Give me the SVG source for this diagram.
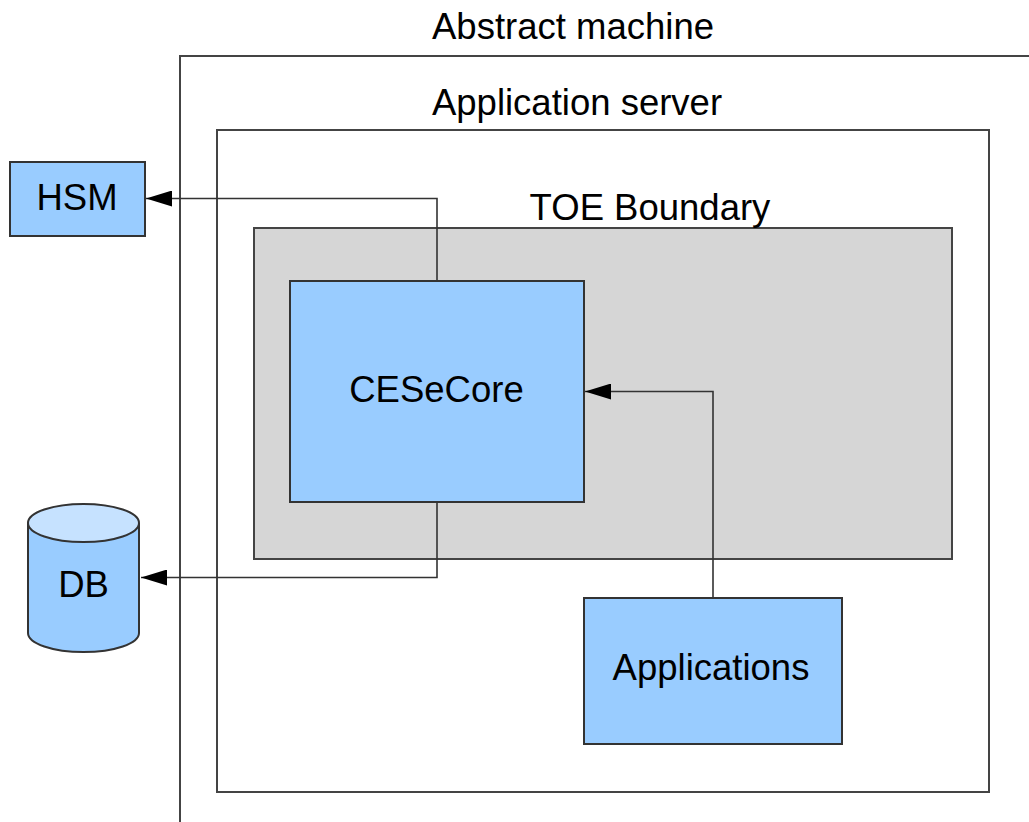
<svg xmlns="http://www.w3.org/2000/svg" width="1029" height="822" viewBox="0 0 1029 822">
<style>
.lbl{font-family:"Liberation Sans",Arial,sans-serif;font-size:36.5px;fill:#000;text-anchor:middle}
.node{fill:#99ccff;stroke:#333;stroke-width:2}
.box{fill:none;stroke:#444;stroke-width:2}
.conn{fill:none;stroke:#333;stroke-width:1.6}
</style>
<defs>
<marker id="arr" viewBox="0 0 26 16" refX="26" refY="8" markerWidth="26" markerHeight="16" markerUnits="userSpaceOnUse" orient="auto">
<path d="M0,0 L26,8 L0,16 Z" fill="#000"/>
</marker>
</defs>
<rect width="1029" height="822" fill="#fff"/>
<g id="abstract-machine">
<path class="box" d="M180,822 V56 H1029" stroke-width="2.2" stroke="#555"/>
<text class="lbl" x="573" y="39">Abstract machine</text>
</g>
<g id="application-server">
<rect class="box" x="217" y="130" width="772" height="662"/>
<text class="lbl" x="577" y="115">Application server</text>
</g>
<g id="toe-boundary">
<rect x="254" y="228" width="698" height="331" fill="#d6d6d6" stroke="#444" stroke-width="2"/>
<text class="lbl" x="650" y="220">TOE Boundary</text>
</g>
<g id="hsm">
<rect class="node" x="10" y="162" width="135" height="74"/>
<text class="lbl" x="77" y="210">HSM</text>
</g>
<g id="db">
<path class="node" d="M28,523 V633 A55.5,19 0 0 0 139,633 V523"/>
<ellipse cx="83.5" cy="523" rx="55.5" ry="19" fill="#c6e2ff" stroke="#333" stroke-width="2"/>
<text class="lbl" x="83.5" y="597">DB</text>
</g>
<g id="cesecore">
<rect class="node" x="290" y="281" width="294" height="221"/>
<text class="lbl" x="436.5" y="402">CESeCore</text>
</g>
<g id="applications">
<rect class="node" x="584" y="598" width="258" height="146"/>
<text class="lbl" x="711" y="680">Applications</text>
</g>
<g id="connectors">
<path class="conn" d="M437,281 V198.5 H146" marker-end="url(#arr)"/>
<path class="conn" d="M437,502 V577.5 H141" marker-end="url(#arr)"/>
<path class="conn" d="M713,598 V391.5 H585" marker-end="url(#arr)"/>
</g>
</svg>
